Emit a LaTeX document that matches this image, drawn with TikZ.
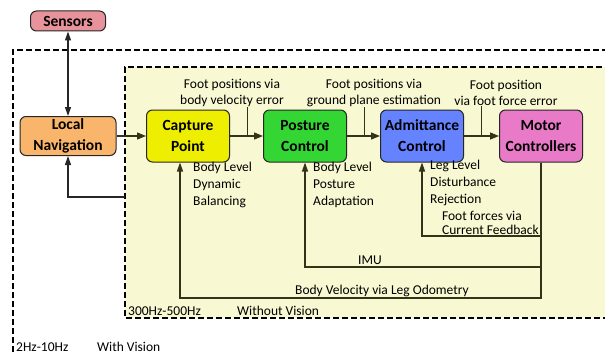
\documentclass[tikz,border=0pt]{standalone}
\usepackage{fontspec}
\setmainfont{Carlito}
\usetikzlibrary{arrows.meta,positioning}
\definecolor{sensorc}{HTML}{E8939B}
\definecolor{navc}{HTML}{F9B56B}
\definecolor{capc}{HTML}{EEEE00}
\definecolor{posc}{HTML}{33D633}
\definecolor{admc}{HTML}{6683FF}
\definecolor{motc}{HTML}{E87AC8}
\definecolor{innerc}{HTML}{F8F8D2}
\definecolor{linec}{HTML}{33331A}

\begin{document}
\begin{tikzpicture}[x=1pt,y=-1pt,
				block/.style={draw=black!85,line width=1pt,rounded corners=6pt,minimum width=83pt,minimum height=52pt,align=center,inner sep=1pt,font=\fontsize{15.5}{21}\selectfont\bfseries},
				flow/.style={draw=linec,line width=1.4pt,-{Triangle[length=9pt,width=7pt]}},
				back/.style={draw=linec,line width=1.2pt,-{Triangle[length=9pt,width=6pt]}},
				outflow/.style={draw=black!85,line width=1.2pt,-{Triangle[length=9pt,width=6pt]}},
				tick/.style={draw=linec,line width=0.5pt},
				note/.style={font=\fontsize{13.5}{17}\selectfont,align=left,inner sep=0pt,anchor=north west},
				lbl/.style={font=\fontsize{13.5}{16}\selectfont,align=center,inner sep=0pt},
				frame/.style={line width=1.2pt,dash pattern=on 6pt off 3pt}]
				\useasboundingbox (0,0) rectangle (605,353);
				\clip (0,0) rectangle (605,353);
				% frames
				\draw[frame] (13,370) -- (13,50) -- (620,50);
				\filldraw[frame,fill=innerc] (620,67) -- (125,67) -- (125,318) -- (620,318);
				% blocks
				\node[block,fill=sensorc,minimum width=75pt,minimum height=20pt] (sen) at (68,21) {Sensors};
				\node[block,fill=navc,minimum width=96pt,minimum height=39pt] (ln) at (68,136) {Local\\Navigation};
				\node[block,fill=capc] (cp) at (188,136) {Capture\\Point};
				\node[block,fill=posc] (pc) at (305,136) {Posture\\Control};
				\node[block,fill=admc] (ac) at (422,136) {Admittance\\Control};
				\node[block,fill=motc] (mc) at (541,136) {Motor\\Controllers};
				% forward path
				\draw[outflow,{Triangle[length=9pt,width=6pt]}-{Triangle[length=9pt,width=6pt]}] (sen) -- (ln);
				\draw[flow] (ln) -- (cp);
				\draw[flow] (cp) -- (pc);
				\draw[flow] (pc) -- (ac);
				\draw[flow] (ac) -- (mc);
				% labels on the forward path
				\node[lbl] (fpa) at (232,93) {Foot positions via\\body velocity error};
				\node[lbl] (fpb) at (374,93) {Foot positions via\\ground plane estimation};
				\node[lbl] (fpc) at (506,93) {Foot position\\via foot force error};
				\coordinate (ta) at (247,136);
				\coordinate (tb) at (364,136);
				\coordinate (tc) at (481,136);
				\draw[tick] (ta |- fpa.south) -- (ta);
				\draw[tick] (tb |- fpb.south) -- (tb);
				\draw[tick] (tc |- fpc.south) -- (tc);
				% feedback paths
				\coordinate (ff) at (422,236);
				\coordinate (imu) at (305,267);
				\coordinate (bv) at (180,298);
				\draw[back] (mc.south) |- (ff) -- (ac.south);
				\draw[back] (mc.south) |- (imu) -- (pc.south);
				\draw[back] (mc.south) |- (bv) -- (bv |- cp.south);
				\coordinate (fb) at (125,197);
				\draw[outflow] (fb) -| (ln.south);
				% notes
				\node[note] (ncp) at (193,162) {Body Level\\Dynamic\\Balancing};
				\node[note] (npc) at (313,162) {Body Level\\Posture\\Adaptation};
				\node[note] (nac) at (430,160) {Leg Level\\Disturbance\\Rejection};
				\node[lbl,align=left,font=\fontsize{13.5}{14}\selectfont,anchor=north east] (nff) at (539,211) {Foot forces via\\Current Feedback};
				\node[lbl,anchor=base] (nimu) at (370,264) {IMU};
				\node[lbl,anchor=base] (nbv) at (382,294) {Body Velocity via Leg Odometry};
				% rates
				\node[note,anchor=base west] (rin) at (128,315) {300Hz-500Hz};
				\node[note,anchor=base west] (vin) at (237,315) {Without Vision};
				\node[note,anchor=base west] (rout) at (16,351) {2Hz-10Hz};
				\node[note,anchor=base west] (vout) at (97,351) {With Vision};
\end{tikzpicture}
\end{document}
